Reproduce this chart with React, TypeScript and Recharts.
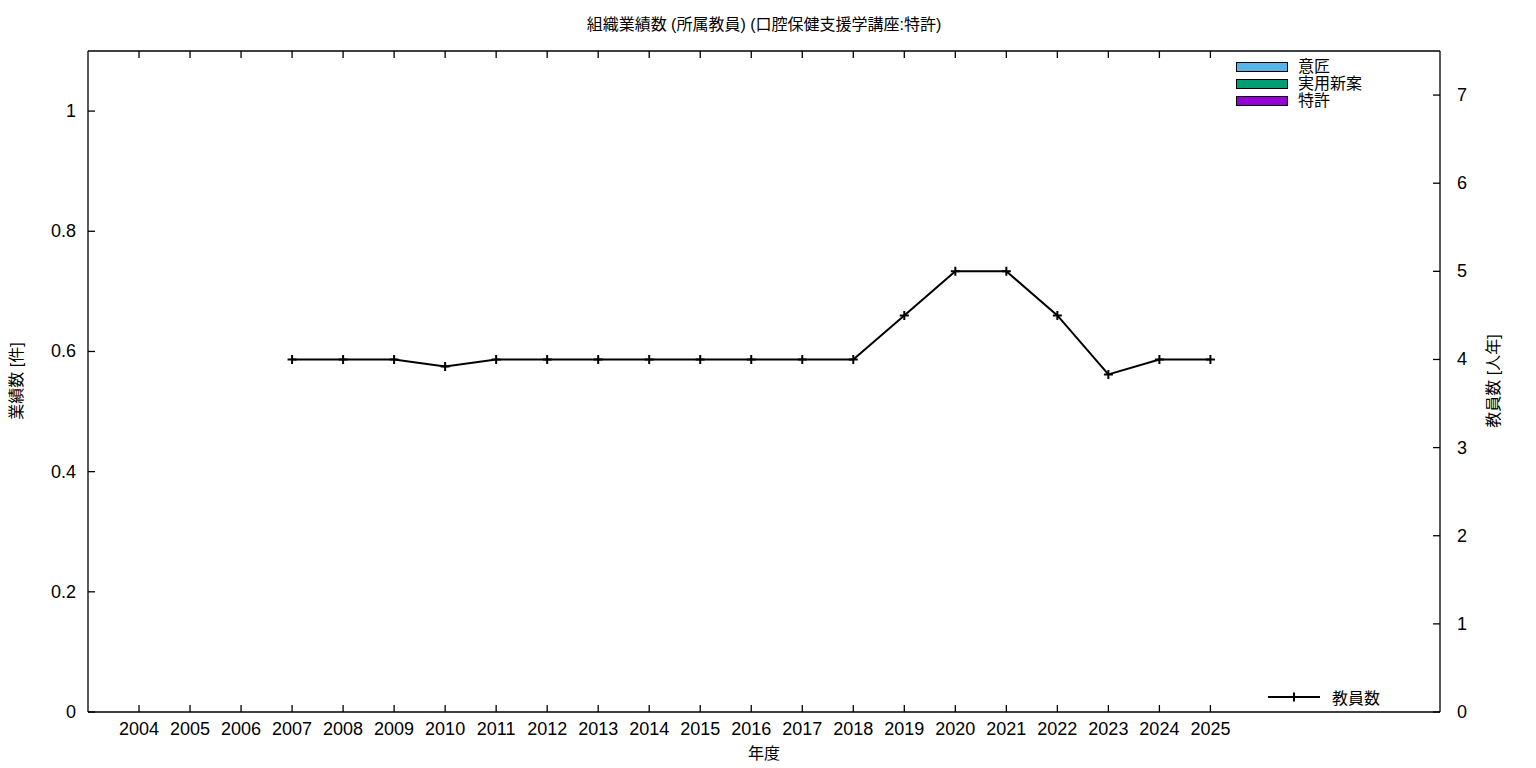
import { ComposedChart, Bar, Line, XAxis, YAxis } from 'recharts';

const years = [
  2004, 2005, 2006, 2007, 2008, 2009, 2010, 2011, 2012, 2013, 2014,
  2015, 2016, 2017, 2018, 2019, 2020, 2021, 2022, 2023, 2024, 2025,
];
const designCounts = [0, 0, 0, 0, 0, 0, 0, 0, 0, 0, 0, 0, 0, 0, 0, 0, 0, 0, 0, 0, 0, 0];
const utilityCounts = [0, 0, 0, 0, 0, 0, 0, 0, 0, 0, 0, 0, 0, 0, 0, 0, 0, 0, 0, 0, 0, 0];
const patentCounts = [0, 0, 0, 0, 0, 0, 0, 0, 0, 0, 0, 0, 0, 0, 0, 0, 0, 0, 0, 0, 0, 0];
const facultyCounts = [
  null, null, null, 4, 4, 4, 3.92, 4, 4, 4, 4,
  4, 4, 4, 4, 4.5, 5, 5, 4.5, 3.83, 4, 4,
];
const leftTicks = [0, 0.2, 0.4, 0.6, 0.8, 1];
const rightTicks = [0, 1, 2, 3, 4, 5, 6, 7];

const barSeries = [
  { key: 'design', name: '意匠', color: '#56b4e9' },
  { key: 'utility', name: '実用新案', color: '#009e73' },
  { key: 'patent', name: '特許', color: '#9400d3' },
];

const data = years.map((year, i) => ({
  year,
  design: designCounts[i],
  utility: utilityCounts[i],
  patent: patentCounts[i],
  faculty: facultyCounts[i],
}));

const FONT = "'Liberation Sans', 'Noto Sans CJK JP', sans-serif";
const TICK = 7;

// negative tickSize -> ticks point into the plot like gnuplot;
// tickMargin = TICK brings the label anchor back onto the axis line
const BottomText = ({ x, y, payload }: any) => (
  <text x={x} y={y + 23} textAnchor="middle" fontSize={18} fill="#000" fontFamily={FONT}>
    {payload.value}
  </text>
);

const LeftText = ({ x, y, payload }: any) => (
  <text x={x - 12} y={y + 6} textAnchor="end" fontSize={18} fill="#000" fontFamily={FONT}>
    {payload.value}
  </text>
);

const RightText = ({ x, y, payload }: any) => (
  <text x={x + 17} y={y + 6} textAnchor="start" fontSize={18} fill="#000" fontFamily={FONT}>
    {payload.value}
  </text>
);

const PlusDot = (props: any) => {
  const { cx, cy, value, index } = props;
  if (value == null || cx == null || cy == null) return <g key={`d-${index}`} />;
  return (
    <path
      key={`d-${index}`}
      d={`M${cx - 4.5},${cy}h9M${cx},${cy - 4.5}v9`}
      stroke="#000"
      strokeWidth={2}
    />
  );
};

const axisStyle = { stroke: '#000', strokeWidth: 1.3 };

export default function App() {
  return (
    <div style={{ position: 'absolute', left: 0, top: 0, width: 1536, height: 768, background: '#fff', fontFamily: FONT }}>
      <ComposedChart width={1536} height={768} data={data} margin={{ top: 50, right: 0, bottom: 0, left: 0 }}>
        <XAxis
          xAxisId="bottom"
          dataKey="year"
          type="number"
          domain={[2003, 2029.5]}
          ticks={years}
          allowDataOverflow
          height={56}
          stroke="#000"
          tickSize={-TICK}
          tickMargin={TICK}
          tick={<BottomText />}
          axisLine={axisStyle}
          tickLine={axisStyle}
          interval={0}
        />
        <XAxis
          xAxisId="top"
          orientation="top"
          dataKey="year"
          type="number"
          domain={[2003, 2029.5]}
          ticks={years}
          allowDataOverflow
          height={1}
          stroke="#000"
          tickSize={-TICK}
          tickMargin={TICK}
          tick={() => <g />}
          axisLine={axisStyle}
          tickLine={axisStyle}
          interval={0}
        />
        <YAxis
          yAxisId="left"
          domain={[0, 1.1]}
          ticks={leftTicks}
          width={88}
          stroke="#000"
          tickSize={-TICK}
          tickMargin={TICK}
          tick={<LeftText />}
          axisLine={axisStyle}
          tickLine={axisStyle}
          interval={0}
        />
        <YAxis
          yAxisId="right"
          orientation="right"
          domain={[0, 7.5]}
          ticks={rightTicks}
          width={96}
          stroke="#000"
          tickSize={-TICK}
          tickMargin={TICK}
          tick={<RightText />}
          axisLine={axisStyle}
          tickLine={axisStyle}
          interval={0}
        />
        {barSeries.map((s) => (
          <Bar
            key={s.key}
            dataKey={s.key}
            name={s.name}
            xAxisId="bottom"
            yAxisId="left"
            stackId="a"
            fill={s.color}
            stroke="#000"
            barSize={30}
            isAnimationActive={false}
          />
        ))}
        <Line
          dataKey="faculty"
          name="教員数"
          xAxisId="bottom"
          yAxisId="right"
          stroke="#000"
          strokeWidth={2}
          type="linear"
          dot={PlusDot}
          activeDot={false}
          isAnimationActive={false}
        />
      </ComposedChart>

      <div style={{ position: 'absolute', left: 0, top: 14, width: 1528, textAlign: 'center', fontSize: 16, lineHeight: '22px', color: '#000' }}>
        組織業績数 (所属教員) (口腔保健支援学講座:特許)
      </div>
      <div style={{ position: 'absolute', left: 0, top: 743, width: 1528, textAlign: 'center', fontSize: 16, lineHeight: '22px', color: '#000' }}>
        年度
      </div>
      <div style={{ position: 'absolute', left: 15, top: 381, transform: 'translate(-50%, -50%) rotate(-90deg)', whiteSpace: 'nowrap', fontSize: 16, color: '#000' }}>
        業績数 [件]
      </div>
      <div style={{ position: 'absolute', left: 1492, top: 381, transform: 'translate(-50%, -50%) rotate(-90deg)', whiteSpace: 'nowrap', fontSize: 16, color: '#000' }}>
        教員数 [人年]
      </div>

      {barSeries.map((s, i) => (
        <div key={s.key} style={{ position: 'absolute', left: 1236, top: 58 + i * 17, height: 17, display: 'flex', alignItems: 'center' }}>
          <div style={{ width: 50, height: 8, background: s.color, border: '1px solid #000' }} />
          <span style={{ marginLeft: 10, fontSize: 16, lineHeight: '17px', color: '#000' }}>{s.name}</span>
        </div>
      ))}
      <div style={{ position: 'absolute', left: 1268, top: 686, height: 22, display: 'flex', alignItems: 'center' }}>
        <svg width={52} height={22} style={{ display: 'block' }}>
          <path d="M0,11h52M26,6.5v9" stroke="#000" strokeWidth={2} />
        </svg>
        <span style={{ marginLeft: 12, fontSize: 16, color: '#000' }}>教員数</span>
      </div>
    </div>
  );
}
